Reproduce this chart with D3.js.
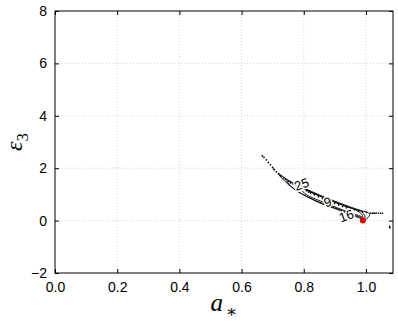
<!DOCTYPE html>
<html>
<head>
<meta charset="utf-8">
<script src="https://cdn.jsdelivr.net/npm/d3@7"></script>
<style>
  body { margin: 0; background: #fff; }
  .tick text { font-family: "Liberation Sans", Arial, sans-serif; font-size: 14px; fill: #000; }
</style>
</head>
<body>
<div id="viz"></div>
<script>
// scatter of accepted samples (a*, eps3)
var samples = [
  [0.667, 2.47], [0.672, 2.41], [0.680, 2.32], [0.686, 2.22], [0.693, 2.13],
  [0.700, 2.03], [0.706, 1.94], [0.712, 1.86], [0.719, 1.79], [0.727, 1.70],
  [0.735, 1.63], [0.742, 1.57], [0.750, 1.50], [0.757, 1.44], [0.766, 1.39],
  [0.775, 1.34], [0.783, 1.29], [0.795, 1.22], [0.809, 1.14], [0.822, 1.06],
  [0.834, 0.99], [0.847, 0.91], [0.860, 0.84], [0.873, 0.77], [0.886, 0.72],
  [0.899, 0.66], [0.912, 0.60], [0.925, 0.54], [0.937, 0.49], [0.950, 0.45],
  [0.963, 0.41], [0.976, 0.37], [0.989, 0.33], [1.002, 0.31], [1.014, 0.29],
  [1.020, 0.28], [1.024, 0.29], [1.028, 0.28], [1.033, 0.29], [1.040, 0.29],
  [1.047, 0.28], [1.053, 0.28], [1.076, -0.22], [1.077, -0.27], [0.741, 1.58],
  [0.703, 1.97], [0.724, 1.72], [0.788, 1.25], [0.816, 1.09]
];

// contour lines (chi^2 levels)
var level25 = [
  [0.718, 1.80], [0.740, 1.62], [0.765, 1.45], [0.800, 1.25], [0.850, 0.98],
  [0.900, 0.74], [0.950, 0.52], [0.985, 0.38], [1.008, 0.30], [1.012, 0.22],
  [0.998, 0.04], [0.975, 0.12], [0.940, 0.28], [0.900, 0.46], [0.850, 0.68],
  [0.800, 0.98], [0.765, 1.24], [0.735, 1.55]
];
var level16 = [
  [0.745, 1.52], [0.790, 1.26], [0.850, 0.94], [0.900, 0.70], [0.950, 0.48],
  [0.988, 0.32], [0.997, 0.10], [0.965, 0.20], [0.915, 0.42], [0.860, 0.66],
  [0.810, 0.92], [0.770, 1.20]
];
var level9 = [
  [0.785, 1.30], [0.830, 1.06], [0.880, 0.80], [0.930, 0.57], [0.975, 0.36],
  [0.990, 0.16], [0.955, 0.28], [0.905, 0.50], [0.855, 0.74], [0.805, 1.02]
];
var contours = [level25, level16, level9];

var contourLabels = ['25', '9', '16'];
var labelPos = [[0.793, 1.39], [0.877, 0.71], [0.937, 0.19]];

var bestFit = [[0.99, 0.0]];

var xTicks = [0, 0.2, 0.4, 0.6, 0.8, 1.0];
var yTicks = [-2, 0, 2, 4, 6, 8];

var margin = { top: 11, right: 5, bottom: 54, left: 55 },
    width = 398 - margin.left - margin.right,
    height = 327 - margin.top - margin.bottom;

var x = d3.scaleLinear().domain([0, 1.087]).range([0, width]);
var y = d3.scaleLinear().domain([-2, 8]).range([height, 0]);

var svg = d3.select('#viz').append('svg')
    .attr('width', 398)
    .attr('height', 327);

var g = svg.append('g')
    .attr('transform', 'translate(' + margin.left + ',' + margin.top + ')');

// grid
g.append('g').selectAll('line').data(xTicks.slice(1)).enter().append('line')
  .attr('x1', function(d) { return x(d); })
  .attr('x2', function(d) { return x(d); })
  .attr('y1', 0).attr('y2', height)
  .attr('stroke', '#c8c8c8').attr('stroke-width', 0.8)
  .attr('stroke-dasharray', '1,2');

g.append('g').selectAll('line').data(yTicks.slice(1, -1)).enter().append('line')
  .attr('y1', function(d) { return y(d); })
  .attr('y2', function(d) { return y(d); })
  .attr('x1', 0).attr('x2', width)
  .attr('stroke', '#c8c8c8').attr('stroke-width', 0.8)
  .attr('stroke-dasharray', '1,2');

// axes with inward ticks
var xAxis = d3.axisBottom(x).tickValues(xTicks).tickFormat(d3.format('.1f'))
    .tickSizeInner(-4).tickSizeOuter(0).tickPadding(9);
var yAxis = d3.axisLeft(y).tickValues(yTicks).tickFormat(function(d) { return d < 0 ? '\u2212' + (-d) : d; })
    .tickSizeInner(-4).tickSizeOuter(0).tickPadding(8);

g.append('g').attr('transform', 'translate(0,' + height + ')').call(xAxis)
  .call(function(a) { a.select('.domain').remove(); });
g.append('g').call(yAxis)
  .call(function(a) { a.select('.domain').remove(); });
g.append('g').call(d3.axisTop(x).tickValues(xTicks).tickSizeInner(-4).tickSizeOuter(0).tickFormat(''))
  .call(function(a) { a.select('.domain').remove(); });
g.append('g').attr('transform', 'translate(' + width + ',0)')
  .call(d3.axisRight(y).tickValues(yTicks).tickSizeInner(-4).tickSizeOuter(0).tickFormat(''))
  .call(function(a) { a.select('.domain').remove(); });

// frame
g.append('rect').attr('width', width).attr('height', height)
  .attr('fill', 'none').attr('stroke', '#000').attr('stroke-width', 1);

var plot = g.append('g');

// samples
plot.selectAll('circle.s').data(samples).enter().append('circle')
  .attr('class', 's')
  .attr('cx', function(d) { return x(d[0]); })
  .attr('cy', function(d) { return y(d[1]); })
  .attr('r', 0.85)
  .attr('fill', '#000');

// contours
var line = d3.line()
  .x(function(d) { return x(d[0]); })
  .y(function(d) { return y(d[1]); })
  .curve(d3.curveCatmullRomClosed);

plot.selectAll('path.c').data(contours).enter().append('path')
  .attr('class', 'c')
  .attr('d', line)
  .attr('fill', 'none')
  .attr('stroke', '#000')
  .attr('stroke-width', 0.9);

// contour labels
plot.selectAll('text.cl').data(contourLabels).enter().append('text')
  .attr('class', 'cl')
  .attr('transform', function(d, i) {
    return 'translate(' + x(labelPos[i][0]) + ',' + y(labelPos[i][1]) + ') rotate(-20)';
  })
  .attr('text-anchor', 'middle')
  .attr('dy', '0.35em')
  .attr('font-family', '"Liberation Sans", Arial, sans-serif')
  .attr('font-size', 13)
  .attr('stroke', '#fff').attr('stroke-width', 3).attr('paint-order', 'stroke')
  .attr('fill', '#000')
  .text(function(d) { return d; });

// best fit
plot.selectAll('circle.b').data(bestFit).enter().append('circle')
  .attr('class', 'b')
  .attr('cx', function(d) { return x(d[0]); })
  .attr('cy', function(d) { return y(d[1]); })
  .attr('r', 3)
  .attr('fill', '#e00000');

// axis labels
var xl = svg.append('text')
  .attr('x', margin.left + width / 2)
  .attr('y', 311)
  .attr('text-anchor', 'middle')
  .attr('font-family', '"Liberation Serif", "DejaVu Serif", serif')
  .attr('font-style', 'italic')
  .attr('font-size', 25);
xl.append('tspan').text('a');
xl.append('tspan').attr('dx', 3).attr('dy', 6).attr('font-size', 17).attr('font-style', 'normal').text('\u2217');

var yl = svg.append('text')
  .attr('transform', 'translate(22,' + (margin.top + height / 2) + ') rotate(-90)')
  .attr('text-anchor', 'middle')
  .attr('font-family', '"Liberation Serif", "DejaVu Serif", serif')
  .attr('font-size', 24);
yl.append('tspan').attr('font-style', 'italic').text('\u03b5');
yl.append('tspan').attr('dy', 6).attr('font-size', 17).text('3');
</script>
</body>
</html>
